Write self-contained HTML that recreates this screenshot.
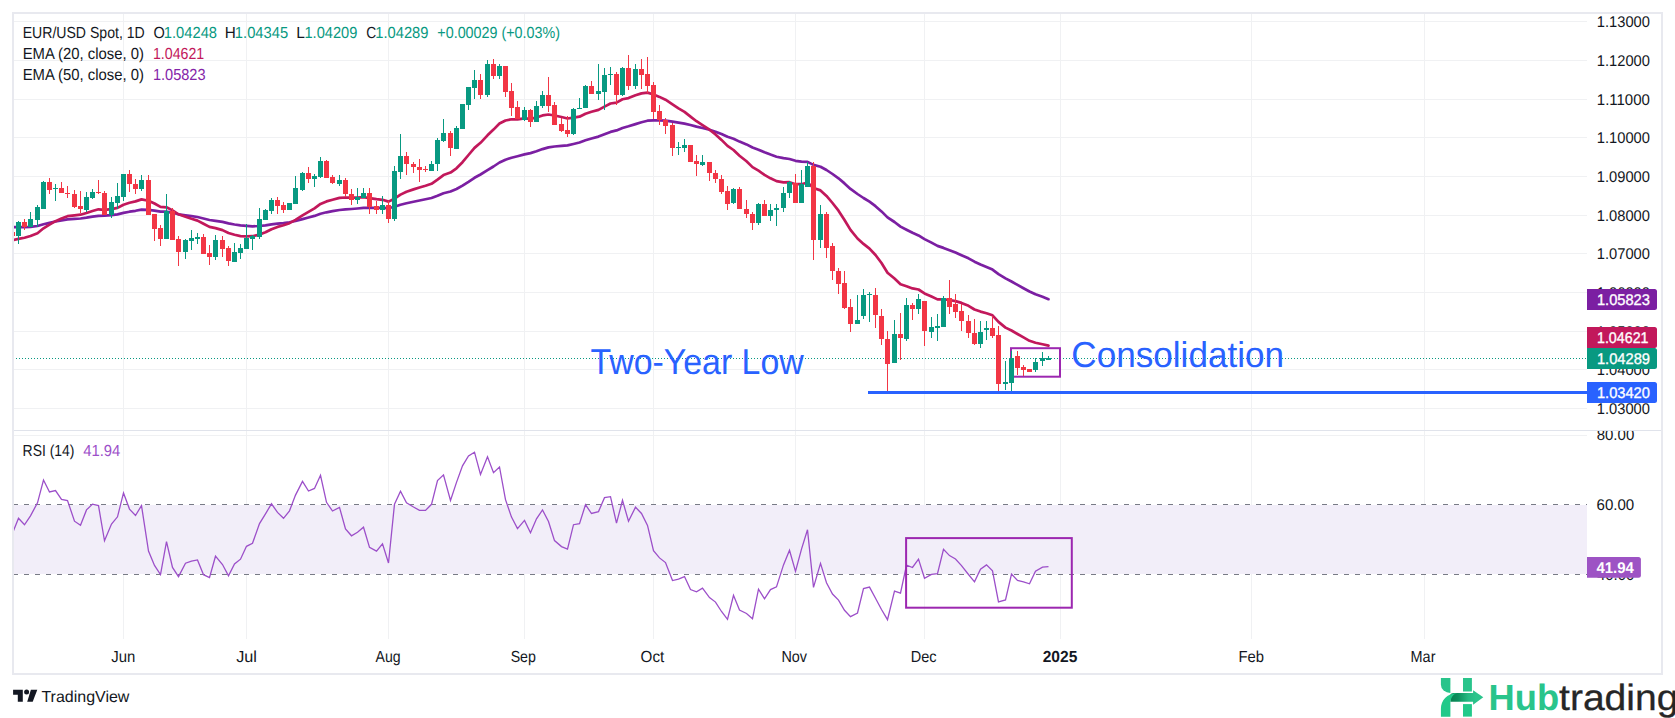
<!DOCTYPE html><html><head><meta charset="utf-8"><title>EUR/USD</title><style>
html,body{margin:0;padding:0;background:#fff;width:1675px;height:718px;overflow:hidden}
svg{display:block}text{font-family:"Liberation Sans",sans-serif;text-rendering:geometricPrecision}
</style></head><body>
<svg width="1675" height="718" viewBox="0 0 1675 718">
<defs><clipPath id="cp"><rect x="14" y="14" width="1573" height="416"/></clipPath><clipPath id="cax"><rect x="1587" y="431" width="74" height="208"/></clipPath><clipPath id="cr"><rect x="14" y="431" width="1573" height="208"/></clipPath><linearGradient id="hg" gradientUnits="userSpaceOnUse" x1="1450" y1="0" x2="1476" y2="0"><stop offset="0" stop-color="#08804f"/><stop offset="0.3" stop-color="#0c8f5d"/><stop offset="0.7" stop-color="#25b982"/><stop offset="1" stop-color="#2bc48c"/></linearGradient></defs>
<rect x="0" y="0" width="1675" height="718" fill="#fff"/>
<rect x="13" y="13" width="1649" height="661" fill="none" stroke="#e8e9ef" stroke-width="2"/>
<path d="M14 21.5H1587M14 60.5H1587M14 99.5H1587M14 137.5H1587M14 176.5H1587M14 215.5H1587M14 253.5H1587M14 292.5H1587M14 331.5H1587M14 369.5H1587M14 408.5H1587M123.5 14V430M123.5 431V639M246.5 14V430M246.5 431V639M388.5 14V430M388.5 431V639M524.5 14V430M524.5 431V639M653.5 14V430M653.5 431V639M795.5 14V430M795.5 431V639M924.5 14V430M924.5 431V639M1060.5 14V430M1060.5 431V639M1251.5 14V430M1251.5 431V639M1424.5 14V430M1424.5 431V639M14 435.5H1587" stroke="#f0f1f3" stroke-width="1" fill="none"/>
<path d="M14 430.5H1661" stroke="#e0e3eb" stroke-width="1"/>
<rect x="14" y="505" width="1573" height="69" fill="#f2eef9"/>
<path d="M14 504.5H1587M14 574.5H1587" stroke="#787b86" stroke-width="1" stroke-dasharray="5 6" stroke-dashoffset="1"/>
<g clip-path="url(#cp)">
<path d="M13 358.5H1587" stroke="#089981" stroke-width="1" stroke-dasharray="1 2"/>
<rect x="1011" y="348.2" width="49" height="28.5" fill="none" stroke="#9c27b0" stroke-width="2"/>
<path d="M12.6 227.1L18.5 227.1L24.5 227.1L30.5 226.8L37.5 226.0L43.5 224.3L49.5 222.9L55.5 221.5L61.5 220.4L67.5 219.4L74.5 218.9L80.5 218.5L86.5 217.7L92.5 216.7L98.5 215.8L104.5 215.7L111.5 215.2L117.5 214.4L123.5 212.9L129.5 211.7L135.5 210.8L141.5 209.6L148.5 209.8L154.5 210.6L160.5 211.7L166.5 211.7L172.5 212.8L178.5 214.3L185.5 215.3L191.5 216.2L197.5 217.0L203.5 218.5L209.5 220.0L215.5 220.8L222.5 221.9L228.5 223.4L234.5 224.5L240.5 225.4L246.5 225.9L252.5 226.3L259.5 226.0L265.5 225.4L271.5 224.4L277.5 223.7L283.5 223.1L289.5 222.3L295.5 221.0L302.5 219.1L308.5 217.5L314.5 215.9L320.5 213.7L326.5 212.3L332.5 211.2L339.5 210.0L345.5 209.4L351.5 209.0L357.5 208.5L363.5 207.9L369.5 207.9L376.5 207.9L382.5 207.8L388.5 208.2L394.5 206.8L400.5 204.8L406.5 203.2L413.5 201.8L419.5 200.5L425.5 199.3L431.5 198.0L437.5 195.7L443.5 193.2L450.5 191.5L456.5 189.0L462.5 185.6L468.5 181.8L474.5 177.8L480.5 174.5L487.5 170.2L493.5 166.5L499.5 162.5L505.5 159.7L511.5 157.7L517.5 156.2L524.5 154.4L530.5 153.1L536.5 151.3L542.5 149.1L548.5 147.4L554.5 146.5L561.5 145.9L567.5 145.4L573.5 144.0L579.5 142.5L585.5 140.3L591.5 138.5L598.5 136.6L604.5 134.2L610.5 131.9L616.5 130.4L622.5 128.0L628.5 126.3L635.5 124.1L641.5 122.2L647.5 120.7L653.5 120.4L659.5 120.4L665.5 120.6L672.5 121.7L678.5 122.7L684.5 123.6L690.5 125.0L696.5 126.6L702.5 128.0L709.5 129.8L715.5 131.7L721.5 134.1L727.5 136.8L733.5 138.8L739.5 141.6L746.5 144.4L752.5 147.5L758.5 149.7L764.5 152.3L770.5 154.6L776.5 156.7L783.5 158.1L789.5 159.0L795.5 160.8L801.5 161.7L807.5 161.9L813.5 164.9L820.5 166.8L826.5 170.0L832.5 174.0L838.5 178.3L844.5 183.4L850.5 188.9L857.5 194.0L863.5 198.0L869.5 201.7L875.5 206.2L881.5 211.4L887.5 217.4L894.5 222.0L900.5 226.6L906.5 229.7L912.5 232.8L918.5 235.4L924.5 239.1L931.5 242.6L937.5 245.9L943.5 247.9L949.5 250.2L955.5 252.6L961.5 255.3L968.5 258.3L974.5 261.7L980.5 264.5L986.5 267.0L992.5 269.6L998.5 274.1L1005.5 278.4L1011.5 281.5L1017.5 284.9L1023.5 288.2L1029.5 291.5L1035.5 294.3L1042.5 296.8L1048.5 299.2" stroke="#7b1fa2" stroke-width="2.7" fill="none" stroke-linejoin="round" stroke-linecap="round"/>
<path d="M12.6 240.1L18.5 238.9L24.5 237.7L30.5 236.0L37.5 233.2L43.5 228.3L49.5 224.6L55.5 221.2L61.5 218.5L67.5 216.2L74.5 215.3L80.5 214.7L86.5 213.0L92.5 211.0L98.5 209.3L104.5 209.8L111.5 209.1L117.5 207.9L123.5 204.7L129.5 202.7L135.5 201.4L141.5 199.4L148.5 200.8L154.5 203.5L160.5 206.9L166.5 207.3L172.5 210.4L178.5 214.3L185.5 216.8L191.5 218.8L197.5 220.6L203.5 223.7L209.5 226.9L215.5 228.1L222.5 230.1L228.5 233.0L234.5 234.8L240.5 236.1L246.5 236.3L252.5 236.2L259.5 234.6L265.5 232.2L271.5 229.2L277.5 226.9L283.5 225.3L289.5 223.2L295.5 219.8L302.5 215.4L308.5 211.9L314.5 208.4L320.5 203.9L326.5 201.4L332.5 199.7L339.5 197.9L345.5 197.5L351.5 197.7L357.5 197.6L363.5 197.2L369.5 198.1L376.5 199.2L382.5 199.8L388.5 201.6L394.5 198.7L400.5 194.6L406.5 191.7L413.5 189.4L419.5 187.5L425.5 185.8L431.5 183.8L437.5 179.6L443.5 175.1L450.5 172.6L456.5 168.3L462.5 162.2L468.5 155.0L474.5 147.9L480.5 142.8L487.5 135.3L493.5 129.6L499.5 123.5L505.5 120.5L511.5 119.3L517.5 119.3L524.5 118.4L530.5 118.8L536.5 117.6L542.5 115.4L548.5 114.5L554.5 115.5L561.5 117.0L567.5 118.5L573.5 117.6L579.5 116.7L585.5 113.8L591.5 111.8L598.5 109.9L604.5 106.6L610.5 103.5L616.5 102.6L622.5 99.3L628.5 98.1L635.5 95.3L641.5 93.4L647.5 92.6L653.5 94.5L659.5 96.9L665.5 99.7L672.5 104.3L678.5 108.4L684.5 111.9L690.5 116.6L696.5 121.2L702.5 125.1L709.5 129.7L715.5 134.4L721.5 139.9L727.5 145.9L733.5 150.0L739.5 155.7L746.5 161.3L752.5 167.1L758.5 170.6L764.5 174.9L770.5 178.3L776.5 181.1L783.5 182.3L789.5 182.2L795.5 184.2L801.5 184.2L807.5 182.5L813.5 188.0L820.5 190.4L826.5 195.9L832.5 203.0L838.5 210.7L844.5 220.0L850.5 229.9L857.5 238.5L863.5 243.9L869.5 248.6L875.5 255.0L881.5 263.0L887.5 272.7L894.5 278.5L900.5 284.2L906.5 286.2L912.5 288.4L918.5 289.5L924.5 293.4L931.5 296.6L937.5 299.4L943.5 299.3L949.5 300.0L955.5 301.1L961.5 302.9L968.5 305.8L974.5 309.5L980.5 311.6L986.5 313.2L992.5 315.3L998.5 321.9L1005.5 327.6L1011.5 330.5L1017.5 334.0L1023.5 337.4L1029.5 340.8L1035.5 342.8L1042.5 344.3L1048.5 345.6" stroke="#c2185b" stroke-width="2.7" fill="none" stroke-linejoin="round" stroke-linecap="round"/>
<path d="M18 221h1v23h-1zM16 222h5v14h-5zM30 212h1v15h-1zM28 219h5v8h-5zM37 205h1v22h-1zM35 207h5v13h-5zM43 181h1v28h-1zM41 182h5v27h-5zM55 184h1v17h-1zM53 188h5v1h-5zM86 192h1v20h-1zM84 197h5v13h-5zM92 189h1v10h-1zM90 192h5v6h-5zM111 197h1v21h-1zM109 202h5v13h-5zM117 183h1v26h-1zM115 196h5v7h-5zM123 174h1v27h-1zM121 174h5v23h-5zM141 175h1v16h-1zM139 180h5v9h-5zM166 194h1v45h-1zM164 211h5v28h-5zM185 239h1v20h-1zM183 240h5v12h-5zM191 230h1v20h-1zM189 238h5v3h-5zM197 233h1v11h-1zM195 237h5v2h-5zM215 235h1v25h-1zM213 240h5v17h-5zM234 243h1v19h-1zM232 252h5v10h-5zM240 244h1v15h-1zM238 248h5v5h-5zM246 224h1v25h-1zM244 238h5v11h-5zM252 235h1v15h-1zM250 236h5v3h-5zM259 208h1v31h-1zM257 219h5v18h-5zM265 209h1v11h-1zM263 210h5v10h-5zM271 198h1v16h-1zM269 200h5v11h-5zM289 203h1v7h-1zM287 203h5v7h-5zM295 176h1v28h-1zM293 188h5v16h-5zM302 172h1v19h-1zM300 173h5v17h-5zM314 174h1v13h-1zM312 176h5v3h-5zM320 157h1v21h-1zM318 161h5v16h-5zM339 175h1v11h-1zM337 180h5v4h-5zM357 188h1v16h-1zM355 197h5v3h-5zM363 188h1v10h-1zM361 193h5v5h-5zM382 196h1v18h-1zM380 205h5v5h-5zM394 166h1v55h-1zM392 171h5v48h-5zM400 134h1v45h-1zM398 156h5v16h-5zM431 161h1v10h-1zM429 164h5v7h-5zM437 138h1v33h-1zM435 140h5v24h-5zM443 119h1v23h-1zM441 133h5v8h-5zM456 126h1v23h-1zM454 128h5v21h-5zM462 104h1v25h-1zM460 104h5v25h-5zM468 87h1v23h-1zM466 87h5v18h-5zM474 70h1v29h-1zM472 80h5v8h-5zM487 60h1v37h-1zM485 64h5v31h-5zM499 64h1v15h-1zM497 66h5v10h-5zM524 107h1v14h-1zM522 110h5v10h-5zM536 101h1v21h-1zM534 106h5v16h-5zM542 91h1v17h-1zM540 95h5v11h-5zM573 108h1v27h-1zM571 109h5v25h-5zM579 98h1v11h-1zM577 108h5v1h-5zM585 85h1v23h-1zM583 86h5v22h-5zM598 64h1v36h-1zM596 91h5v3h-5zM604 68h1v42h-1zM602 75h5v17h-5zM610 67h1v18h-1zM608 74h5v1h-5zM622 67h1v29h-1zM620 68h5v27h-5zM635 64h1v25h-1zM633 69h5v17h-5zM678 142h1v13h-1zM676 147h5v1h-5zM684 139h1v13h-1zM682 145h5v3h-5zM702 155h1v11h-1zM700 162h5v3h-5zM733 188h1v16h-1zM731 189h5v14h-5zM758 203h1v22h-1zM756 204h5v19h-5zM770 204h1v17h-1zM768 210h5v6h-5zM776 204h1v22h-1zM774 208h5v2h-5zM783 187h1v25h-1zM781 193h5v15h-5zM789 181h1v17h-1zM787 182h5v11h-5zM801 170h1v33h-1zM799 184h5v19h-5zM807 162h1v25h-1zM805 166h5v21h-5zM820 205h1v43h-1zM818 214h5v26h-5zM857 295h1v29h-1zM855 320h5v4h-5zM863 289h1v30h-1zM861 295h5v21h-5zM869 292h1v30h-1zM867 294h5v1h-5zM894 320h1v43h-1zM892 334h5v29h-5zM906 298h1v43h-1zM904 305h5v34h-5zM918 294h1v20h-1zM916 299h5v10h-5zM931 317h1v21h-1zM929 327h5v5h-5zM937 314h1v27h-1zM935 326h5v2h-5zM943 296h1v31h-1zM941 298h5v29h-5zM980 321h1v27h-1zM978 332h5v12h-5zM986 321h1v19h-1zM984 328h5v2h-5zM1005 361h1v29h-1zM1003 382h5v2h-5zM1011 351h1v40h-1zM1009 358h5v25h-5zM1035 358h1v14h-1zM1033 362h5v8h-5zM1042 352h1v14h-1zM1040 358h5v3h-5zM1048 356h1v4h-1zM1046 358h5v2h-5z" fill="#089981"/>
<path d="M12 229h1v9h-1zM10 232h5v4h-5zM24 219h1v11h-1zM22 222h5v5h-5zM49 178h1v16h-1zM47 182h5v8h-5zM61 182h1v11h-1zM59 188h5v5h-5zM67 186h1v12h-1zM65 193h5v1h-5zM74 190h1v18h-1zM72 194h5v13h-5zM80 191h1v22h-1zM78 206h5v3h-5zM98 180h1v14h-1zM96 192h5v1h-5zM104 191h1v24h-1zM102 193h5v22h-5zM129 170h1v22h-1zM127 174h5v10h-5zM135 179h1v15h-1zM133 184h5v5h-5zM148 175h1v40h-1zM146 180h5v35h-5zM154 214h1v27h-1zM152 214h5v15h-5zM160 225h1v21h-1zM158 228h5v11h-5zM172 208h1v32h-1zM170 211h5v29h-5zM178 236h1v30h-1zM176 239h5v13h-5zM203 234h1v20h-1zM201 237h5v17h-5zM209 245h1v20h-1zM207 253h5v4h-5zM222 236h1v21h-1zM220 240h5v9h-5zM228 246h1v20h-1zM226 248h5v13h-5zM277 197h1v17h-1zM275 200h5v6h-5zM283 202h1v11h-1zM281 205h5v5h-5zM308 167h1v16h-1zM306 173h5v6h-5zM326 160h1v18h-1zM324 161h5v17h-5zM332 175h1v9h-1zM330 177h5v6h-5zM345 178h1v19h-1zM343 180h5v14h-5zM351 189h1v16h-1zM349 194h5v6h-5zM369 188h1v26h-1zM367 193h5v14h-5zM376 201h1v13h-1zM374 206h5v4h-5zM388 201h1v22h-1zM386 205h5v14h-5zM406 152h1v23h-1zM404 156h5v8h-5zM413 162h1v11h-1zM411 164h5v3h-5zM419 159h1v23h-1zM417 167h5v3h-5zM425 166h1v6h-1zM423 169h5v1h-5zM450 131h1v25h-1zM448 133h5v15h-5zM480 74h1v25h-1zM478 80h5v15h-5zM493 59h1v20h-1zM491 64h5v12h-5zM505 66h1v31h-1zM503 66h5v26h-5zM511 83h1v33h-1zM509 91h5v17h-5zM517 101h1v18h-1zM515 107h5v12h-5zM530 109h1v18h-1zM528 110h5v12h-5zM548 77h1v35h-1zM546 95h5v11h-5zM554 102h1v23h-1zM552 105h5v20h-5zM561 118h1v14h-1zM559 124h5v7h-5zM567 116h1v21h-1zM565 130h5v4h-5zM591 81h1v13h-1zM589 86h5v8h-5zM616 72h1v33h-1zM614 74h5v21h-5zM628 55h1v35h-1zM626 68h5v18h-5zM641 59h1v30h-1zM639 69h5v6h-5zM647 57h1v36h-1zM645 74h5v12h-5zM653 82h1v37h-1zM651 85h5v27h-5zM659 105h1v20h-1zM657 111h5v9h-5zM665 118h1v16h-1zM663 120h5v6h-5zM672 123h1v33h-1zM670 125h5v23h-5zM690 145h1v17h-1zM688 145h5v17h-5zM696 155h1v21h-1zM694 161h5v3h-5zM709 162h1v19h-1zM707 162h5v11h-5zM715 170h1v13h-1zM713 173h5v6h-5zM721 175h1v19h-1zM719 179h5v13h-5zM727 186h1v24h-1zM725 191h5v13h-5zM739 187h1v22h-1zM737 189h5v20h-5zM746 200h1v18h-1zM744 209h5v5h-5zM752 212h1v18h-1zM750 214h5v9h-5zM764 200h1v16h-1zM762 204h5v12h-5zM795 174h1v29h-1zM793 183h5v20h-5zM813 162h1v98h-1zM811 166h5v74h-5zM826 212h1v46h-1zM824 214h5v34h-5zM832 243h1v37h-1zM830 246h5v25h-5zM838 268h1v26h-1zM836 271h5v13h-5zM844 271h1v38h-1zM842 283h5v25h-5zM850 299h1v33h-1zM848 307h5v17h-5zM875 288h1v40h-1zM873 295h5v20h-5zM881 309h1v36h-1zM879 316h5v23h-5zM887 331h1v63h-1zM885 339h5v25h-5zM900 313h1v47h-1zM898 334h5v4h-5zM912 303h1v17h-1zM910 305h5v4h-5zM924 301h1v45h-1zM922 301h5v30h-5zM949 280h1v34h-1zM947 298h5v9h-5zM955 294h1v24h-1zM953 304h5v8h-5zM961 304h1v27h-1zM959 311h5v10h-5zM968 315h1v23h-1zM966 321h5v12h-5zM974 319h1v26h-1zM972 333h5v11h-5zM992 316h1v22h-1zM990 328h5v8h-5zM998 326h1v65h-1zM996 335h5v49h-5zM1017 351h1v24h-1zM1015 356h5v12h-5zM1023 365h1v11h-1zM1021 367h5v3h-5zM1029 369h1v3h-1zM1027 369h5v3h-5z" fill="#f23645"/>
<path d="M868 392.5H1587" stroke="#2962ff" stroke-width="3"/>
</g>
<g clip-path="url(#cr)">
<path d="M12.6 533.0L18.5 518.2L24.5 524.8L30.5 515.8L37.5 502.8L43.5 480.0L49.5 492.0L55.5 490.6L61.5 499.4L67.5 500.5L74.5 521.2L80.5 525.3L86.5 509.9L92.5 504.1L98.5 505.6L104.5 540.8L111.5 524.0L117.5 516.8L123.5 492.9L129.5 509.1L135.5 515.5L141.5 505.6L148.5 551.0L154.5 565.4L160.5 574.5L166.5 541.6L172.5 567.4L178.5 576.6L185.5 563.2L191.5 561.2L197.5 559.9L203.5 574.7L209.5 577.6L215.5 556.2L222.5 564.5L228.5 575.8L234.5 564.0L240.5 559.2L246.5 546.3L252.5 543.3L259.5 523.6L265.5 513.8L271.5 503.8L277.5 512.4L283.5 518.3L289.5 510.8L295.5 495.1L302.5 481.4L308.5 491.0L314.5 488.4L320.5 475.3L326.5 502.3L332.5 511.0L339.5 507.4L345.5 528.9L351.5 535.8L357.5 532.2L363.5 527.2L369.5 547.4L376.5 551.1L382.5 543.9L388.5 563.0L394.5 504.1L400.5 491.3L406.5 502.8L413.5 507.0L419.5 510.4L425.5 510.4L431.5 504.3L437.5 480.6L443.5 474.9L450.5 500.4L456.5 482.4L462.5 465.8L468.5 456.0L474.5 452.2L480.5 474.5L487.5 456.7L493.5 472.7L499.5 467.0L505.5 499.6L511.5 517.1L517.5 528.6L524.5 520.4L530.5 532.7L536.5 518.8L542.5 509.9L548.5 521.5L554.5 540.6L561.5 546.6L567.5 549.1L573.5 524.7L579.5 523.6L585.5 504.7L591.5 513.5L598.5 511.6L604.5 497.7L610.5 496.7L616.5 523.2L622.5 500.3L628.5 521.3L635.5 507.2L641.5 513.5L647.5 525.4L653.5 550.7L659.5 557.9L665.5 562.6L672.5 580.6L678.5 579.1L684.5 576.6L690.5 589.6L696.5 591.8L702.5 588.2L709.5 597.6L715.5 602.1L721.5 611.5L727.5 619.4L733.5 595.3L739.5 610.1L746.5 613.5L752.5 618.7L758.5 589.2L764.5 598.9L770.5 589.6L776.5 586.9L783.5 564.9L789.5 550.3L795.5 571.4L801.5 549.1L807.5 529.8L813.5 587.4L820.5 563.4L826.5 582.8L832.5 594.0L838.5 600.1L844.5 610.3L850.5 616.6L857.5 613.0L863.5 588.5L869.5 587.1L875.5 598.3L881.5 609.5L887.5 619.7L894.5 591.1L900.5 593.1L906.5 565.2L912.5 567.5L918.5 559.1L924.5 578.2L931.5 574.4L937.5 573.6L943.5 549.4L949.5 555.6L955.5 559.0L961.5 565.6L968.5 574.5L974.5 581.8L980.5 569.1L986.5 564.9L992.5 570.8L998.5 601.9L1005.5 599.9L1011.5 574.1L1017.5 580.4L1023.5 581.9L1029.5 583.8L1035.5 571.3L1042.5 567.1L1048.5 566.7" stroke="#9c4fc9" stroke-width="1.3" fill="none" stroke-linejoin="miter"/>
<rect x="906.1" y="538.1" width="165.7" height="69.6" fill="none" stroke="#9c27b0" stroke-width="2"/>
</g>
<text x="22.70" y="38.00" font-size="16" fill="#131722" textLength="122.04" lengthAdjust="spacingAndGlyphs">EUR/USD Spot, 1D</text>
<text x="153.62" y="38.00" font-size="16" fill="#131722" textLength="11.31" lengthAdjust="spacingAndGlyphs">O</text>
<text x="163.85" y="38.00" font-size="16" fill="#089981" textLength="53.19" lengthAdjust="spacingAndGlyphs">1.04248</text>
<text x="224.81" y="38.00" font-size="16" fill="#131722" textLength="11.04" lengthAdjust="spacingAndGlyphs">H</text>
<text x="234.85" y="38.00" font-size="16" fill="#089981" textLength="53.29" lengthAdjust="spacingAndGlyphs">1.04345</text>
<text x="296.19" y="38.00" font-size="16" fill="#131722" textLength="8.62" lengthAdjust="spacingAndGlyphs">L</text>
<text x="304.46" y="38.00" font-size="16" fill="#089981" textLength="52.89" lengthAdjust="spacingAndGlyphs">1.04209</text>
<text x="366.26" y="38.00" font-size="16" fill="#131722" textLength="9.93" lengthAdjust="spacingAndGlyphs">C</text>
<text x="375.25" y="38.00" font-size="16" fill="#089981" textLength="53.20" lengthAdjust="spacingAndGlyphs">1.04289</text>
<text x="437.33" y="38.00" font-size="16" fill="#089981" textLength="122.66" lengthAdjust="spacingAndGlyphs">+0.00029 (+0.03%)</text>
<text x="22.64" y="59.00" font-size="16" fill="#131722" textLength="121.26" lengthAdjust="spacingAndGlyphs">EMA (20, close, 0)</text>
<text x="152.99" y="59.00" font-size="16" fill="#c2185b" textLength="51.24" lengthAdjust="spacingAndGlyphs">1.04621</text>
<text x="22.64" y="80.00" font-size="16" fill="#131722" textLength="121.26" lengthAdjust="spacingAndGlyphs">EMA (50, close, 0)</text>
<text x="152.96" y="80.00" font-size="16" fill="#8424a8" textLength="52.57" lengthAdjust="spacingAndGlyphs">1.05823</text>
<text x="22.61" y="456.00" font-size="16" fill="#131722" textLength="51.91" lengthAdjust="spacingAndGlyphs">RSI (14)</text>
<text x="83.25" y="456.00" font-size="16" fill="#9c4fc9" textLength="37.13" lengthAdjust="spacingAndGlyphs">41.94</text>
<text x="590.49" y="373.70" font-size="36" fill="#2962ff" textLength="213.23" lengthAdjust="spacingAndGlyphs">Two-Year Low</text>
<text x="1071.37" y="367.00" font-size="36" fill="#2962ff" textLength="212.64" lengthAdjust="spacingAndGlyphs">Consolidation</text>
<text x="111.27" y="662.30" font-size="16" fill="#131722" textLength="24.01" lengthAdjust="spacingAndGlyphs">Jun</text>
<text x="236.15" y="662.30" font-size="16" fill="#131722" textLength="20.75" lengthAdjust="spacingAndGlyphs">Jul</text>
<text x="375.60" y="662.30" font-size="16" fill="#131722" textLength="25.05" lengthAdjust="spacingAndGlyphs">Aug</text>
<text x="510.63" y="662.30" font-size="16" fill="#131722" textLength="25.29" lengthAdjust="spacingAndGlyphs">Sep</text>
<text x="640.59" y="662.30" font-size="16" fill="#131722" textLength="23.63" lengthAdjust="spacingAndGlyphs">Oct</text>
<text x="781.48" y="662.30" font-size="16" fill="#131722" textLength="25.59" lengthAdjust="spacingAndGlyphs">Nov</text>
<text x="910.67" y="662.30" font-size="16" fill="#131722" textLength="25.83" lengthAdjust="spacingAndGlyphs">Dec</text>
<text x="1042.71" y="662.30" font-size="16" fill="#131722" font-weight="bold" textLength="34.62" lengthAdjust="spacingAndGlyphs">2025</text>
<text x="1238.44" y="662.30" font-size="16" fill="#131722" textLength="25.50" lengthAdjust="spacingAndGlyphs">Feb</text>
<text x="1410.57" y="662.30" font-size="16" fill="#131722" textLength="24.89" lengthAdjust="spacingAndGlyphs">Mar</text>
<text x="1596.83" y="26.90" font-size="15.5" fill="#131722" textLength="53.09" lengthAdjust="spacingAndGlyphs">1.13000</text>
<text x="1596.83" y="65.90" font-size="15.5" fill="#131722" textLength="53.09" lengthAdjust="spacingAndGlyphs">1.12000</text>
<text x="1596.81" y="104.90" font-size="15.5" fill="#131722" textLength="53.10" lengthAdjust="spacingAndGlyphs">1.11000</text>
<text x="1596.83" y="142.90" font-size="15.5" fill="#131722" textLength="53.09" lengthAdjust="spacingAndGlyphs">1.10000</text>
<text x="1596.83" y="181.90" font-size="15.5" fill="#131722" textLength="53.09" lengthAdjust="spacingAndGlyphs">1.09000</text>
<text x="1596.83" y="220.90" font-size="15.5" fill="#131722" textLength="53.09" lengthAdjust="spacingAndGlyphs">1.08000</text>
<text x="1596.83" y="258.90" font-size="15.5" fill="#131722" textLength="53.09" lengthAdjust="spacingAndGlyphs">1.07000</text>
<text x="1596.83" y="297.90" font-size="15.5" fill="#131722" textLength="53.09" lengthAdjust="spacingAndGlyphs">1.06000</text>
<text x="1596.83" y="336.90" font-size="15.5" fill="#131722" textLength="53.09" lengthAdjust="spacingAndGlyphs">1.05000</text>
<text x="1596.83" y="374.90" font-size="15.5" fill="#131722" textLength="53.09" lengthAdjust="spacingAndGlyphs">1.04000</text>
<text x="1596.83" y="413.90" font-size="15.5" fill="#131722" textLength="53.09" lengthAdjust="spacingAndGlyphs">1.03000</text>
<g clip-path="url(#cax)">
<text x="1596.69" y="440.40" font-size="15.5" fill="#131722" textLength="37.55" lengthAdjust="spacingAndGlyphs">80.00</text>
</g>
<text x="1596.57" y="509.90" font-size="15.5" fill="#131722" textLength="37.68" lengthAdjust="spacingAndGlyphs">60.00</text>
<text x="1596.94" y="579.90" font-size="15.5" fill="#131722" textLength="37.30" lengthAdjust="spacingAndGlyphs">40.00</text>
<path d="M1587 289H1654.5Q1657 289 1657 291.5V307.5Q1657 310 1654.5 310H1587Z" fill="#7b1fa2"/><text x="1596.94" y="304.80" font-size="15.5" fill="#fff" textLength="52.99" lengthAdjust="spacingAndGlyphs" stroke="#fff" stroke-width="0.35">1.05823</text>
<path d="M1587 327H1654.5Q1657 327 1657 329.5V345.5Q1657 348 1654.5 348H1587Z" fill="#c2185b"/><text x="1596.96" y="342.80" font-size="15.5" fill="#fff" textLength="51.56" lengthAdjust="spacingAndGlyphs" stroke="#fff" stroke-width="0.35">1.04621</text>
<path d="M1587 348H1654.5Q1657 348 1657 350.5V366.5Q1657 369 1654.5 369H1587Z" fill="#089981"/><text x="1596.93" y="363.80" font-size="15.5" fill="#fff" textLength="53.11" lengthAdjust="spacingAndGlyphs" stroke="#fff" stroke-width="0.35">1.04289</text>
<path d="M1587 382H1654.5Q1657 382 1657 384.5V400.5Q1657 403 1654.5 403H1587Z" fill="#2962ff"/><text x="1596.94" y="397.80" font-size="15.5" fill="#fff" textLength="52.99" lengthAdjust="spacingAndGlyphs" stroke="#fff" stroke-width="0.35">1.03420</text>
<path d="M1587 557H1638.4Q1640.9 557 1640.9 559.5V575.2Q1640.9 577.7 1638.4 577.7H1587Z" fill="#9d53c4"/><text x="1596.46" y="572.65" font-size="15.5" fill="#fff" font-weight="bold" textLength="37.50" lengthAdjust="spacingAndGlyphs">41.94</text>
<path d="M13.1 689.8H22.8V701.8H17.8V694.8H13.1Z" fill="#131722"/>
<circle cx="26.6" cy="692.1" r="2.5" fill="#131722"/>
<path d="M30.9 689.8H37.3L32.7 701.8H27.2Z" fill="#131722"/>
<text x="41.43" y="701.80" font-size="16" fill="#131722" textLength="88.00" lengthAdjust="spacingAndGlyphs">TradingView</text>
<path d="M1450.4 701.73V694.6Q1450.9 692.96 1453.5 692.96H1473.1V690.3L1483.3 697.3L1473.1 704.65V701.73Z" fill="url(#hg)"/>
<path d="M1440.9 678H1450.4V693A9.5 8.2 0 0 1 1440.9 684.8Z" fill="#29c48b"/>
<path d="M1440.92 716.64V708.75C1440.92 700.56 1446.77 693.54 1457.3 692.96C1453.2 693.54 1450.4 698.22 1450.4 702.9V716.64Z" fill="#22c98a"/>
<rect x="1463" y="678" width="8.9" height="13.5" fill="#29c48b"/>
<rect x="1463" y="704.1" width="8.9" height="12.5" fill="#22c98a"/>
<text x="1488.54" y="710.30" font-size="36.5" fill="#29c48b" font-weight="bold" textLength="70.63" lengthAdjust="spacingAndGlyphs">Hub</text>
<text x="1559.06" y="710.30" font-size="36.5" fill="#262626" textLength="119.41" lengthAdjust="spacingAndGlyphs" stroke="#262626" stroke-width="0.3">trading</text>
</svg></body></html>
